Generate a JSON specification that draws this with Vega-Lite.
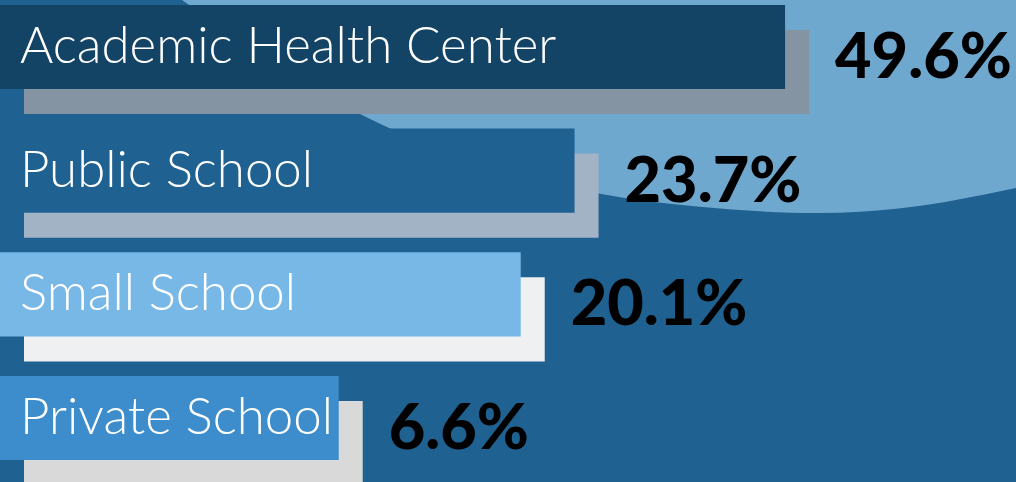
{
  "$schema": "https://vega.github.io/schema/vega-lite/v6.json",
  "width": 1016,
  "height": 482,
  "padding": 0,
  "autosize": {"type": "none"},
  "background": "#1f6190",
  "view": {"stroke": null},
  "datasets": {
    "rows": [
      {"category": "Academic Health Center", "value": 49.6, "label": "49.6%", "bar": 49.6},
      {"category": "Public School", "value": 23.7, "label": "23.7%", "bar": 36.3},
      {"category": "Small School", "value": 20.1, "label": "20.1%", "bar": 32.9},
      {"category": "Private School", "value": 6.6, "label": "6.6%", "bar": 21.4}
    ],
    "curve": [
      {"cx": 11.5, "cy": 0},
      {"cx": 17.0, "cy": 0.124},
      {"cx": 23.25, "cy": 0.245},
      {"cx": 30.3, "cy": 0.336},
      {"cx": 37.9, "cy": 0.402},
      {"cx": 44.2, "cy": 0.429},
      {"cx": 51.8, "cy": 0.442},
      {"cx": 56.9, "cy": 0.432},
      {"cx": 64.2, "cy": 0.39}
    ]
  },
  "layer": [
    {
      "data": {"name": "curve"},
      "mark": {"type": "area", "color": "#6fa8cf", "interpolate": "monotone", "orient": "vertical"},
      "encoding": {
        "x": {"field": "cx", "type": "quantitative", "scale": {"domain": [0, 64.19], "nice": false, "zero": true}, "axis": null},
        "y": {"field": "cy", "type": "quantitative", "scale": {"domain": [0, 1], "range": [0, 482], "nice": false}, "axis": null},
        "y2": {"datum": 0}
      }
    },
    {
      "data": {"name": "rows"},
      "layer": [
        {
          "mark": {"type": "bar", "xOffset": 24, "x2Offset": 24, "yOffset": 25, "y2Offset": 25},
          "encoding": {
            "color": {"field": "category", "type": "nominal", "legend": null,
              "scale": {"domain": ["Academic Health Center", "Public School", "Small School", "Private School"], "range": ["#8494a3", "#a3b3c6", "#eff0f2", "#d9d9d9"]}}
          }
        },
        {
          "mark": {"type": "bar"},
          "encoding": {
            "fill": {"field": "category", "type": "nominal", "legend": null,
              "scale": {"domain": ["Academic Health Center", "Public School", "Small School", "Private School"], "range": ["#134466", "#1f6190", "#78b8e6", "#3d8ccb"]}}
          }
        },
        {
          "mark": {"type": "text", "align": "left", "baseline": "middle", "dx": 20, "dy": 1, "font": "Lato", "fontWeight": 300, "fontSize": 51, "color": "white"},
          "encoding": {
            "x": {"datum": 0},
            "x2": null,
            "text": {"field": "category"}
          }
        },
        {
          "mark": {"type": "text", "align": "left", "baseline": "middle", "dx": 50, "yOffset": 12, "font": "Lato", "fontWeight": 900, "fontSize": 63, "color": "black"},
          "encoding": {
            "x2": null,
            "text": {"field": "label"}
          }
        }
      ],
      "encoding": {
        "x": {"field": "bar", "type": "quantitative", "axis": null},
        "x2": {"datum": 0},
        "y": {"field": "category", "type": "nominal", "sort": null, "axis": null,
          "scale": {"range": [0, 465], "paddingInner": 0.32, "paddingOuter": 0.04}}
      }
    }
  ],
  "resolve": {"scale": {"y": "independent", "color": "independent"}}
}
